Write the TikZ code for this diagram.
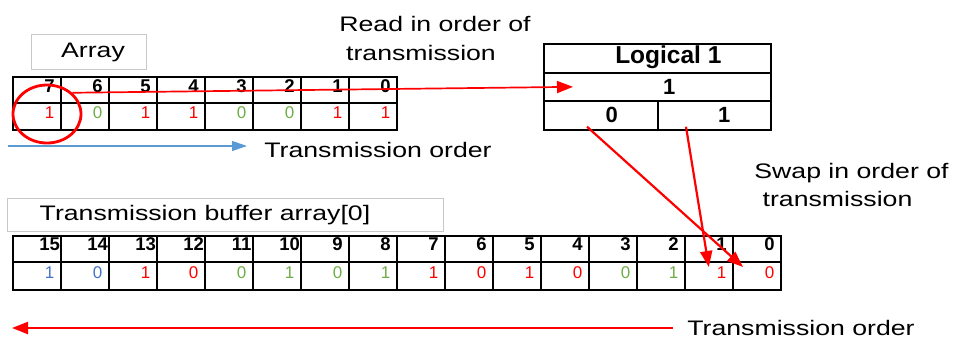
\documentclass[tikz,border=0pt]{standalone}
\usepackage{fontspec}
\setmainfont{Liberation Sans}
\newfontfamily\wsf[FakeStretch=1.27]{Liberation Sans}
\usetikzlibrary{arrows.meta,shapes.geometric}
\definecolor{vred}{RGB}{255,0,0}
\definecolor{vgreen}{RGB}{112,173,71}
\definecolor{vblue}{RGB}{68,114,196}
\definecolor{arrblue}{RGB}{91,155,213}
\definecolor{boxgray}{RGB}{200,200,200}
\begin{document}
\begin{tikzpicture}[x=1pt,y=-1pt,
  lbl/.style={font=\wsf\fontsize{21}{25}\selectfont, inner sep=0pt},
  gridcell/.style={draw, line width=1.6pt, inner sep=0pt, minimum width=48pt, anchor=north west},
  hnum/.style={font=\bfseries\fontsize{18.5}{21}\selectfont, inner sep=0pt},
  vnum/.style={font=\fontsize{17}{20}\selectfont, inner sep=0pt},
  gbox/.style={draw=boxgray, line width=0.8pt, inner sep=0pt, anchor=north west},
  lbox/.style={draw, line width=1.7pt, inner sep=0pt, anchor=north west},
  lnum/.style={font=\bfseries\fontsize{22}{26}\selectfont, inner sep=0pt},
  redarrow/.style={draw=vred, line width=2.2pt, -{Triangle[length=16pt,width=12pt]}},
]
\useasboundingbox (0,0) rectangle (954,341);

% ---- Array label
\node[gbox, minimum width=115pt, minimum height=35pt] (arrbox) at (31,34) {};
\node[lbl, anchor=base] (arrtxt) at (93,57) {Array};

% ---- top array
\foreach \v/\c [count=\i from 0] in {1/vred,0/vgreen,1/vred,1/vred,0/vgreen,0/vgreen,1/vred,1/vred} {
  \pgfmathtruncatemacro\bit{7-\i}
  \node[gridcell, minimum height=26pt] (th\bit) at (12+48*\i, 76) {};
  \node[gridcell, minimum height=27pt] (tv\bit) at (12+48*\i, 102) {};
  \node[hnum] (thn\bit) at ([xshift=-12pt,yshift=3.5pt]th\bit.east) {\bit};
  \node[vnum, text=\c] (tvn\bit) at ([xshift=-12pt,yshift=3.5pt]tv\bit.east) {\v};
}

% ---- red circle
\node[draw=vred, line width=2.8pt, ellipse, minimum width=68pt, minimum height=58pt, inner sep=0pt] (circ) at (47,114) {};

% ---- blue arrow + text
\coordinate (bls) at (8,146);
\coordinate (ble) at (247,146);
\draw[arrblue, line width=1.1pt, -{Triangle[length=15pt,width=10pt]}] (bls) -- (ble);
\node[lbl, anchor=base] (tord1) at (378,157) {Transmission order};

% ---- read text
\node[lbl, anchor=base] (read1) at (435,31) {Read in order of};
\node[lbl, anchor=base] (read2) at (421,60) {transmission};

% ---- Logical box
\node[lbox, minimum width=227pt, minimum height=29pt] (ltitle) at (543,43) {};
\node[lbox, minimum width=227pt, minimum height=28pt] (lrow) at (543,72) {};
\node[lbox, minimum width=114pt, minimum height=29pt] (lzero) at (543,100) {};
\node[lbox, minimum width=113pt, minimum height=29pt] (lone) at (657,100) {};
\node[font=\bfseries\fontsize{24.5}{28}\selectfont, inner sep=0pt] (ltt) at ([xshift=11pt,yshift=1pt]ltitle.center) {Logical 1};
\node[lnum] (lrt) at ([xshift=12pt]lrow.center) {1};
\node[lnum] (lzt) at ([xshift=11pt]lzero.center) {0};
\node[lnum] (lot) at ([xshift=10pt]lone.center) {1};

% ---- red line circle -> logical
\draw[redarrow, line width=1.7pt] (circ.40) -- ([xshift=30pt]lrow.west);

% ---- swap text
\node[lbl, anchor=base] (swap1) at (851.5,178) {Swap in order of};
\node[lbl, anchor=base] (swap2) at (837.5,206) {transmission};

% ---- buffer label
\node[gbox, minimum width=436pt, minimum height=33pt] (bufbox) at (7,198) {};
\node[lbl, anchor=base west] (buftxt) at (39.5,220) {Transmission buffer array[0]};

% ---- bottom array
\foreach \v/\c [count=\i from 0] in {1/vblue,0/vblue,1/vred,0/vred,0/vgreen,1/vgreen,0/vgreen,1/vgreen,1/vred,0/vred,1/vred,0/vred,0/vgreen,1/vgreen,1/vred,0/vred} {
  \pgfmathtruncatemacro\bit{15-\i}
  \node[gridcell, minimum height=26pt] (bh\bit) at (12+48*\i, 235) {};
  \node[gridcell, minimum height=28pt] (bv\bit) at (12+48*\i, 261) {};
  \node[hnum] (bhn\bit) at ([xshift=-12pt,yshift=4.5pt]bh\bit.east) {\bit};
  \node[vnum, text=\c] (bvn\bit) at ([xshift=-12pt,yshift=3pt]bv\bit.east) {\v};
}

% ---- swap arrows
\draw[redarrow] ([xshift=44pt,yshift=4pt]lzero.south west) -- ([xshift=11pt,yshift=-6pt]bv0.north west);
\draw[redarrow] ([xshift=29pt,yshift=4pt]lone.south west) -- ([yshift=-6pt]bv1.north);

% ---- bottom arrow + text
\coordinate (brs) at (673,328);
\coordinate (bre) at (12,328);
\draw[redarrow, line width=2.4pt] (brs) -- (bre);
\node[lbl, anchor=base] (tord2) at (801,335) {Transmission order};
\end{tikzpicture}
\end{document}
